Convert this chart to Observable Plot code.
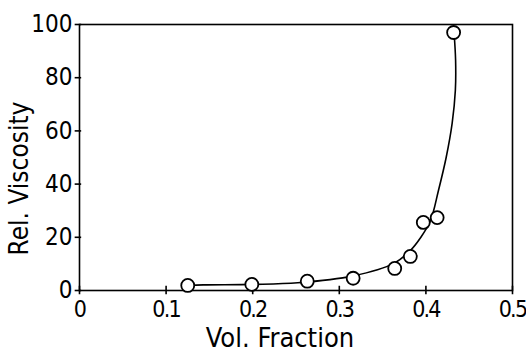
<!DOCTYPE html>
<html>
<head>
<meta charset="utf-8">
<script src="https://cdn.jsdelivr.net/npm/d3@7"></script>
<script src="https://cdn.jsdelivr.net/npm/@observablehq/plot@0.6"></script>
<style>
  html, body { margin: 0; padding: 0; background: #fff; }
  #chart svg { display: block; }
</style>
</head>
<body>
<div id="chart"></div>
<script>
// Measured data points (volume fraction, relative viscosity)
const volFraction = [0.125, 0.199, 0.263, 0.316, 0.364, 0.382, 0.397, 0.413, 0.432];
const relViscosity = [1.9, 2.3, 3.5, 4.6, 8.3, 12.8, 25.6, 27.4, 97.0];

// Fitted curve
const curveX = [0.125, 0.143, 0.200, 0.252, 0.316, 0.363, 0.382, 0.394, 0.4053, 0.4145, 0.4234, 0.4303, 0.4340, 0.4343, 0.4325];
const curveY = [1.9, 2.1, 2.3, 2.9, 5.5, 10.2, 15.0, 19.9, 26.3, 37.6, 50.0, 62.8, 75.2, 86.5, 97.0];

const xTicks = [0, 0.1, 0.2, 0.3, 0.4, 0.5];
const yTicks = [0, 20, 40, 60, 80, 100];
const xLabel = "Vol. Fraction";
const yLabel = "Rel. Viscosity";

const points = volFraction.map((x, i) => ({x, y: relViscosity[i]}));
const curve = curveX.map((x, i) => ({x, y: curveY[i]}));

const FONT = "'DejaVu Sans Condensed', 'Liberation Sans', sans-serif";

const chart = Plot.plot({
  width: 526,
  height: 354,
  marginLeft: 79,
  marginRight: 14,
  marginTop: 24,
  marginBottom: 64,
  style: {fontFamily: FONT, fontSize: "24px", color: "#000", background: "#fff"},
  x: {domain: [0, 0.5]},
  y: {domain: [0, 100]},
  marks: [
    Plot.frame({stroke: "#000", strokeWidth: 1.6}),
    // crossing tick marks
    Plot.ruleX(xTicks, {x: d => d, y1: -1.6, y2: 1.6, stroke: "#000", strokeWidth: 1.6}),
    Plot.ruleY(yTicks, {y: d => d, x1: -0.005, x2: 0.0025, stroke: "#000", strokeWidth: 1.6}),
    Plot.axisX({ticks: xTicks, tickSize: 0, tickPadding: 10, label: null, fontSize: 23, tickFormat: d => String(d)}),
    Plot.axisY({ticks: yTicks, tickSize: 0, tickPadding: 7, label: null, fontSize: 24}),
    Plot.text([xLabel], {frameAnchor: "bottom", dx: -16, dy: 56, fontSize: 27, textAnchor: "middle"}),
    Plot.text([yLabel], {frameAnchor: "left", rotate: -90, dx: -60, dy: 21, fontSize: 26, textAnchor: "middle"}),
    Plot.line(curve, {x: "x", y: "y", curve: "catmull-rom", stroke: "#000", strokeWidth: 1.6}),
    Plot.dot(points, {x: "x", y: "y", r: 6.5, stroke: "#000", strokeWidth: 1.8, fill: "#fff"})
  ]
});
d3.select(chart).selectAll('g[aria-label="x-axis tick label"] text').style("letter-spacing", "-1.8px");
document.getElementById("chart").appendChild(chart);
</script>
</body>
</html>
